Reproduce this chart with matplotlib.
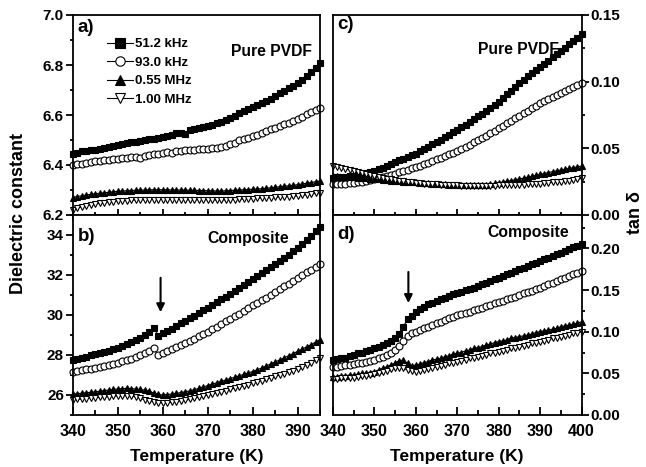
import numpy as np
import matplotlib
matplotlib.use("Agg")
import matplotlib.pyplot as plt
from matplotlib.ticker import MultipleLocator, FormatStrFormatter

plt.rcParams['font.family'] = ['Liberation Sans', 'DejaVu Sans']
plt.rcParams['font.weight'] = 'bold'

# temperature grids (K)
temp_left = np.arange(340, 396)
temp_right = np.arange(340, 401)

freq_labels = ['51.2 kHz', '93.0 kHz', '0.55 MHz', '1.00 MHz']

# a) dielectric constant, pure PVDF
eps_pvdf_512k = [6.445, 6.450, 6.455, 6.458, 6.460, 6.462, 6.465, 6.470, 6.474, 6.478,
                 6.481, 6.484, 6.488, 6.491, 6.494, 6.497, 6.500, 6.503, 6.506, 6.509,
                 6.512, 6.516, 6.520, 6.528, 6.530, 6.525, 6.540, 6.545, 6.548, 6.552,
                 6.556, 6.562, 6.568, 6.574, 6.580, 6.588, 6.598, 6.608, 6.618, 6.626,
                 6.634, 6.642, 6.650, 6.658, 6.666, 6.676, 6.688, 6.698, 6.708, 6.718,
                 6.728, 6.742, 6.756, 6.772, 6.790, 6.810]
eps_pvdf_930k = [6.400, 6.403, 6.406, 6.409, 6.412, 6.415, 6.418, 6.420, 6.422, 6.424,
                 6.426, 6.428, 6.430, 6.432, 6.434, 6.430, 6.436, 6.440, 6.444, 6.446,
                 6.448, 6.452, 6.450, 6.456, 6.458, 6.460, 6.459, 6.462, 6.464, 6.465,
                 6.466, 6.468, 6.470, 6.474, 6.478, 6.484, 6.490, 6.500, 6.506, 6.510,
                 6.515, 6.522, 6.530, 6.536, 6.543, 6.550, 6.557, 6.563, 6.570, 6.578,
                 6.585, 6.594, 6.603, 6.611, 6.620, 6.630]
eps_pvdf_055m = [6.270, 6.274, 6.277, 6.280, 6.283, 6.285, 6.287, 6.289, 6.291, 6.293,
                 6.295, 6.296, 6.297, 6.298, 6.299, 6.300, 6.300, 6.301, 6.301, 6.301,
                 6.301, 6.301, 6.300, 6.300, 6.300, 6.300, 6.299, 6.299, 6.298, 6.298,
                 6.297, 6.297, 6.296, 6.296, 6.297, 6.298, 6.299, 6.300, 6.301, 6.302,
                 6.303, 6.304, 6.305, 6.307, 6.309, 6.311, 6.313, 6.315, 6.317, 6.319,
                 6.321, 6.324, 6.327, 6.330, 6.333, 6.336]
eps_pvdf_100m = [6.222, 6.228, 6.233, 6.237, 6.241, 6.244, 6.247, 6.250, 6.252, 6.254,
                 6.256, 6.257, 6.258, 6.259, 6.260, 6.261, 6.261, 6.262, 6.262, 6.262,
                 6.262, 6.262, 6.262, 6.262, 6.262, 6.261, 6.261, 6.261, 6.261, 6.261,
                 6.261, 6.261, 6.260, 6.260, 6.260, 6.261, 6.262, 6.263, 6.264, 6.265,
                 6.266, 6.267, 6.268, 6.269, 6.270, 6.271, 6.272, 6.273, 6.274, 6.275,
                 6.277, 6.279, 6.281, 6.284, 6.287, 6.290]

# b) dielectric constant, composite
eps_comp_512k = [27.76, 27.82, 27.87, 27.92, 27.98, 28.03, 28.09, 28.15, 28.21, 28.28,
                 28.35, 28.44, 28.53, 28.63, 28.74, 28.85, 29.00, 29.15, 29.35, 28.97,
                 29.08, 29.20, 29.32, 29.45, 29.58, 29.71, 29.84, 29.97, 30.10, 30.23,
                 30.37, 30.50, 30.64, 30.78, 30.92, 31.06, 31.20, 31.35, 31.50, 31.65,
                 31.80, 31.95, 32.10, 32.25, 32.40, 32.55, 32.70, 32.86, 33.02, 33.18,
                 33.35, 33.55, 33.75, 33.96, 34.18, 34.42]
eps_comp_930k = [27.17, 27.20, 27.24, 27.28, 27.32, 27.36, 27.41, 27.46, 27.51, 27.56,
                 27.62, 27.68, 27.75, 27.82, 27.90, 27.98, 28.08, 28.20, 28.33, 27.98,
                 28.08, 28.18, 28.28, 28.38, 28.48, 28.59, 28.70, 28.81, 28.93, 29.05,
                 29.17, 29.29, 29.42, 29.55, 29.68, 29.81, 29.94, 30.07, 30.20, 30.34,
                 30.48, 30.61, 30.74, 30.87, 31.01, 31.15, 31.29, 31.43, 31.57, 31.71,
                 31.85, 31.99, 32.13, 32.27, 32.41, 32.55]
eps_comp_055m = [26.05, 26.07, 26.09, 26.11, 26.14, 26.16, 26.19, 26.22, 26.25, 26.28,
                 26.30, 26.32, 26.33, 26.32, 26.30, 26.28, 26.24, 26.18, 26.10, 26.03,
                 26.00, 26.02, 26.05, 26.08, 26.12, 26.16, 26.21, 26.27, 26.33, 26.40,
                 26.47, 26.54, 26.61, 26.68, 26.75, 26.82, 26.89, 26.96, 27.03, 27.10,
                 27.17, 27.26, 27.35, 27.45, 27.55, 27.65, 27.75, 27.86, 27.96, 28.07,
                 28.18, 28.29, 28.41, 28.52, 28.64, 28.77]
eps_comp_100m = [25.75, 25.78, 25.80, 25.82, 25.84, 25.86, 25.88, 25.90, 25.92, 25.94,
                 25.95, 25.96, 25.96, 25.94, 25.90, 25.84, 25.76, 25.70, 25.65, 25.62,
                 25.60, 25.61, 25.63, 25.66, 25.70, 25.74, 25.78, 25.83, 25.89, 25.94,
                 26.00, 26.05, 26.10, 26.16, 26.22, 26.28, 26.34, 26.40, 26.46, 26.52,
                 26.58, 26.65, 26.72, 26.79, 26.86, 26.93, 27.00, 27.07, 27.14, 27.22,
                 27.30, 27.40, 27.50, 27.61, 27.73, 27.86]

# c) tan delta, pure PVDF
tan_pvdf_512k = [0.0280, 0.0282, 0.0285, 0.0288, 0.0292, 0.0296, 0.0301, 0.0307, 0.0314, 0.0321,
                 0.0330, 0.0342, 0.0355, 0.0368, 0.0382, 0.0396, 0.0410, 0.0423, 0.0436, 0.0448,
                 0.0460, 0.0477, 0.0494, 0.0511, 0.0529, 0.0548, 0.0566, 0.0583, 0.0601, 0.0619,
                 0.0637, 0.0657, 0.0677, 0.0697, 0.0717, 0.0739, 0.0761, 0.0783, 0.0805, 0.0827,
                 0.0850, 0.0877, 0.0904, 0.0932, 0.0961, 0.0990, 0.1015, 0.1040, 0.1064, 0.1088,
                 0.1110, 0.1134, 0.1158, 0.1182, 0.1206, 0.1230, 0.1255, 0.1280, 0.1305, 0.1330,
                 0.1355]
tan_pvdf_930k = [0.0230, 0.0231, 0.0233, 0.0235, 0.0238, 0.0241, 0.0246, 0.0251, 0.0257, 0.0263,
                 0.0270, 0.0277, 0.0285, 0.0293, 0.0301, 0.0310, 0.0319, 0.0329, 0.0339, 0.0349,
                 0.0360, 0.0371, 0.0382, 0.0393, 0.0405, 0.0417, 0.0429, 0.0441, 0.0454, 0.0467,
                 0.0480, 0.0496, 0.0512, 0.0528, 0.0545, 0.0562, 0.0579, 0.0596, 0.0614, 0.0632,
                 0.0650, 0.0669, 0.0688, 0.0707, 0.0726, 0.0745, 0.0764, 0.0783, 0.0802, 0.0821,
                 0.0840, 0.0855, 0.0870, 0.0885, 0.0900, 0.0915, 0.0930, 0.0945, 0.0960, 0.0975,
                 0.0990]
tan_pvdf_055m = [0.0290, 0.0289, 0.0288, 0.0286, 0.0284, 0.0282, 0.0280, 0.0278, 0.0276, 0.0273,
                 0.0270, 0.0267, 0.0264, 0.0261, 0.0258, 0.0256, 0.0253, 0.0251, 0.0249, 0.0246,
                 0.0244, 0.0242, 0.0240, 0.0238, 0.0236, 0.0234, 0.0232, 0.0230, 0.0228, 0.0226,
                 0.0224, 0.0223, 0.0222, 0.0222, 0.0222, 0.0223, 0.0225, 0.0228, 0.0232, 0.0237,
                 0.0242, 0.0247, 0.0252, 0.0258, 0.0264, 0.0270, 0.0277, 0.0283, 0.0290, 0.0297,
                 0.0304, 0.0311, 0.0318, 0.0325, 0.0331, 0.0337, 0.0343, 0.0349, 0.0355, 0.0361,
                 0.0367]
tan_pvdf_100m = [0.0370, 0.0362, 0.0354, 0.0346, 0.0338, 0.0330, 0.0322, 0.0314, 0.0306, 0.0298,
                 0.0290, 0.0284, 0.0278, 0.0272, 0.0267, 0.0262, 0.0258, 0.0254, 0.0250, 0.0246,
                 0.0242, 0.0239, 0.0236, 0.0233, 0.0231, 0.0229, 0.0227, 0.0225, 0.0224, 0.0223,
                 0.0222, 0.0221, 0.0220, 0.0220, 0.0220, 0.0220, 0.0220, 0.0220, 0.0221, 0.0221,
                 0.0222, 0.0223, 0.0224, 0.0225, 0.0226, 0.0227, 0.0228, 0.0230, 0.0232, 0.0234,
                 0.0236, 0.0238, 0.0241, 0.0244, 0.0247, 0.0250, 0.0254, 0.0258, 0.0263, 0.0268,
                 0.0274]

# d) tan delta, composite
tan_comp_512k = [0.066, 0.067, 0.068, 0.069, 0.071, 0.072, 0.074, 0.075, 0.077, 0.078,
                 0.080, 0.082, 0.084, 0.086, 0.089, 0.092, 0.097, 0.106, 0.115, 0.119,
                 0.1235, 0.127, 0.130, 0.133, 0.135, 0.137, 0.139, 0.141, 0.143, 0.145,
                 0.147, 0.148, 0.150, 0.151, 0.153, 0.155, 0.157, 0.159, 0.161, 0.163,
                 0.165, 0.167, 0.169, 0.171, 0.173, 0.175, 0.177, 0.179, 0.181, 0.183,
                 0.185, 0.187, 0.189, 0.191, 0.193, 0.195, 0.197, 0.199, 0.201, 0.203,
                 0.205]
tan_comp_930k = [0.058, 0.058, 0.059, 0.060, 0.060, 0.061, 0.062, 0.063, 0.064, 0.065,
                 0.066, 0.068, 0.070, 0.072, 0.075, 0.078, 0.083, 0.089, 0.095, 0.098,
                 0.100, 0.102, 0.104, 0.106, 0.108, 0.110, 0.112, 0.114, 0.116, 0.118,
                 0.1195, 0.121, 0.123, 0.124, 0.126, 0.127, 0.129, 0.131, 0.132, 0.134,
                 0.1355, 0.137, 0.139, 0.141, 0.142, 0.144, 0.146, 0.148, 0.149, 0.151,
                 0.153, 0.155, 0.157, 0.159, 0.161, 0.163, 0.165, 0.167, 0.169, 0.171,
                 0.173]
tan_comp_055m = [0.046, 0.046, 0.047, 0.047, 0.048, 0.048, 0.049, 0.050, 0.050, 0.051,
                 0.052, 0.054, 0.056, 0.058, 0.060, 0.0625, 0.065, 0.066, 0.062, 0.059,
                 0.060, 0.061, 0.063, 0.064, 0.066, 0.067, 0.068, 0.070, 0.071, 0.073,
                 0.074, 0.075, 0.077, 0.078, 0.080, 0.081, 0.082, 0.084, 0.085, 0.087,
                 0.088, 0.089, 0.090, 0.092, 0.093, 0.094, 0.095, 0.096, 0.097, 0.099,
                 0.100, 0.101, 0.102, 0.103, 0.104, 0.106, 0.107, 0.108, 0.109, 0.110,
                 0.112]
tan_comp_100m = [0.043, 0.043, 0.044, 0.044, 0.045, 0.045, 0.046, 0.047, 0.047, 0.048,
                 0.049, 0.050, 0.052, 0.053, 0.055, 0.056, 0.057, 0.056, 0.054, 0.053,
                 0.052, 0.053, 0.054, 0.055, 0.057, 0.058, 0.059, 0.060, 0.062, 0.063,
                 0.064, 0.065, 0.066, 0.068, 0.069, 0.070, 0.071, 0.072, 0.074, 0.075,
                 0.076, 0.077, 0.078, 0.080, 0.081, 0.082, 0.083, 0.084, 0.086, 0.087,
                 0.088, 0.089, 0.090, 0.092, 0.093, 0.094, 0.095, 0.096, 0.098, 0.099,
                 0.100]

# marker style per frequency: (marker, face colour)
styles = [('s', 'k'), ('o', 'w'), ('^', 'k'), ('v', 'w')]


def plot_series(ax, temps, series):
  for (marker, face), vals, label in zip(styles, series, freq_labels):
    ax.plot(temps, vals, '-', color='k', lw=0.8, marker=marker, ms=5,
            mfc=face, mec='k', mew=0.8, label=label, clip_on=False)


def style_axis(ax, side, bottom):
  for sp in ax.spines.values():
    sp.set_linewidth(1.3)
  ax.xaxis.set_major_locator(MultipleLocator(10))
  ax.xaxis.set_minor_locator(MultipleLocator(5))
  if bottom:
    ax.tick_params(axis='x', which='both', direction='in', top=False,
                   labelsize=11.5, width=1.3, pad=6.5)
    ax.tick_params(axis='x', which='major', length=6)
    ax.tick_params(axis='x', which='minor', length=3.5)
    ax.set_xlabel('Temperature (K)', fontsize=12.5, fontweight='bold', labelpad=7)
  else:
    ax.tick_params(axis='x', which='both', direction='inout', top=False,
                   labelbottom=False, width=1.3)
    ax.tick_params(axis='x', which='major', length=8)
    ax.tick_params(axis='x', which='minor', length=5)
  if side == 'left':
    ax.tick_params(axis='y', which='both', direction='out', left=True, right=False,
                   labelsize=11, width=1.3, pad=1.5)
  else:
    ax.yaxis.tick_right()
    ax.tick_params(axis='y', which='both', direction='out', left=False, right=True,
                   labelleft=False, labelright=True, labelsize=11, width=1.3, pad=1.5)
  ax.tick_params(axis='y', which='major', length=5)
  ax.tick_params(axis='y', which='minor', length=2.5)


fig = plt.figure(figsize=(6.46, 4.67), dpi=100)
W, H = 646.0, 467.0
ax_a = fig.add_axes([73 / W, 1 - 215 / H, 247 / W, 200 / H])
ax_b = fig.add_axes([73 / W, 1 - 415 / H, 247 / W, 200 / H])
ax_c = fig.add_axes([333 / W, 1 - 215 / H, 248.5 / W, 200 / H])
ax_d = fig.add_axes([333 / W, 1 - 415 / H, 248.5 / W, 200 / H])

plot_series(ax_a, temp_left, [eps_pvdf_512k, eps_pvdf_930k, eps_pvdf_055m, eps_pvdf_100m])
plot_series(ax_b, temp_left, [eps_comp_512k, eps_comp_930k, eps_comp_055m, eps_comp_100m])
plot_series(ax_c, temp_right, [tan_pvdf_512k, tan_pvdf_930k, tan_pvdf_055m, tan_pvdf_100m])
plot_series(ax_d, temp_right, [tan_comp_512k, tan_comp_930k, tan_comp_055m, tan_comp_100m])

# limits and ticks
ax_a.set_xlim(340, 395)
ax_a.set_ylim(6.2, 7.0)
ax_a.yaxis.set_major_locator(MultipleLocator(0.2))
ax_a.yaxis.set_minor_locator(MultipleLocator(0.1))
ax_a.yaxis.set_major_formatter(FormatStrFormatter('%.1f'))

ax_b.set_xlim(340, 395)
ax_b.set_ylim(25, 35)
ax_b.set_yticks([26, 28, 30, 32, 34])
ax_b.yaxis.set_minor_locator(MultipleLocator(1))

ax_c.set_xlim(340, 400)
ax_c.set_ylim(0, 0.15)
ax_c.yaxis.set_major_locator(MultipleLocator(0.05))
ax_c.yaxis.set_minor_locator(MultipleLocator(0.025))
ax_c.yaxis.set_major_formatter(FormatStrFormatter('%.2f'))

ax_d.set_xlim(340, 400)
ax_d.set_ylim(0, 0.24)
ax_d.set_yticks([0, 0.05, 0.10, 0.15, 0.20])
ax_d.yaxis.set_minor_locator(MultipleLocator(0.025))
ax_d.yaxis.set_major_formatter(FormatStrFormatter('%.2f'))

style_axis(ax_a, 'left', False)
style_axis(ax_b, 'left', True)
style_axis(ax_c, 'right', False)
style_axis(ax_d, 'right', True)

for lab in ax_a.get_yticklabels() + ax_b.get_yticklabels() + ax_c.get_yticklabels() + \
           ax_d.get_yticklabels() + ax_b.get_xticklabels() + ax_d.get_xticklabels():
  lab.set_fontweight('bold')

# panel letters and sample names
letter_pos = [(ax_a, 'a)', 0.935), (ax_b, 'b)', 0.895), (ax_c, 'c)', 0.95), (ax_d, 'd)', 0.905)]
for ax, letter, ypos in letter_pos:
  ax.text(0.018, ypos, letter, transform=ax.transAxes, ha='left', va='center',
          fontsize=13.5, fontweight='bold')
ax_a.text(0.968, 0.82, 'Pure PVDF', transform=ax_a.transAxes, ha='right', va='center',
          fontsize=11.3, fontweight='bold')
ax_c.text(0.909, 0.825, 'Pure PVDF', transform=ax_c.transAxes, ha='right', va='center',
          fontsize=11.3, fontweight='bold')
ax_b.text(0.874, 0.885, 'Composite', transform=ax_b.transAxes, ha='right', va='center',
          fontsize=11.3, fontweight='bold')
ax_d.text(0.95, 0.915, 'Composite', transform=ax_d.transAxes, ha='right', va='center',
          fontsize=11.3, fontweight='bold')

# arrows marking the transition
ax_b.annotate('', xy=(359.5, 30.0), xytext=(359.5, 32.0),
              arrowprops=dict(arrowstyle='-|>', color='k', lw=1.5, mutation_scale=12))
ax_d.annotate('', xy=(358.2, 0.131), xytext=(358.2, 0.175),
              arrowprops=dict(arrowstyle='-|>', color='k', lw=1.5, mutation_scale=12))

leg = ax_a.legend(loc='upper left', bbox_to_anchor=(0.138, 0.885), frameon=False,
                  fontsize=9.5, borderpad=0, borderaxespad=0, labelspacing=0.48,
                  handlelength=1.95, handletextpad=0.2, markerscale=1.35)
for t in leg.get_texts():
  t.set_fontweight('bold')

fig.text(19 / W, 1 - 214 / H, 'Dielectric constant', rotation=90, ha='center',
         va='center', fontsize=13, fontweight='bold')
fig.text(635 / W, 1 - 213 / H, 'tan δ', rotation=90, ha='center', va='center',
         fontsize=13, fontweight='bold')

fig.savefig('out.png', dpi=100)
